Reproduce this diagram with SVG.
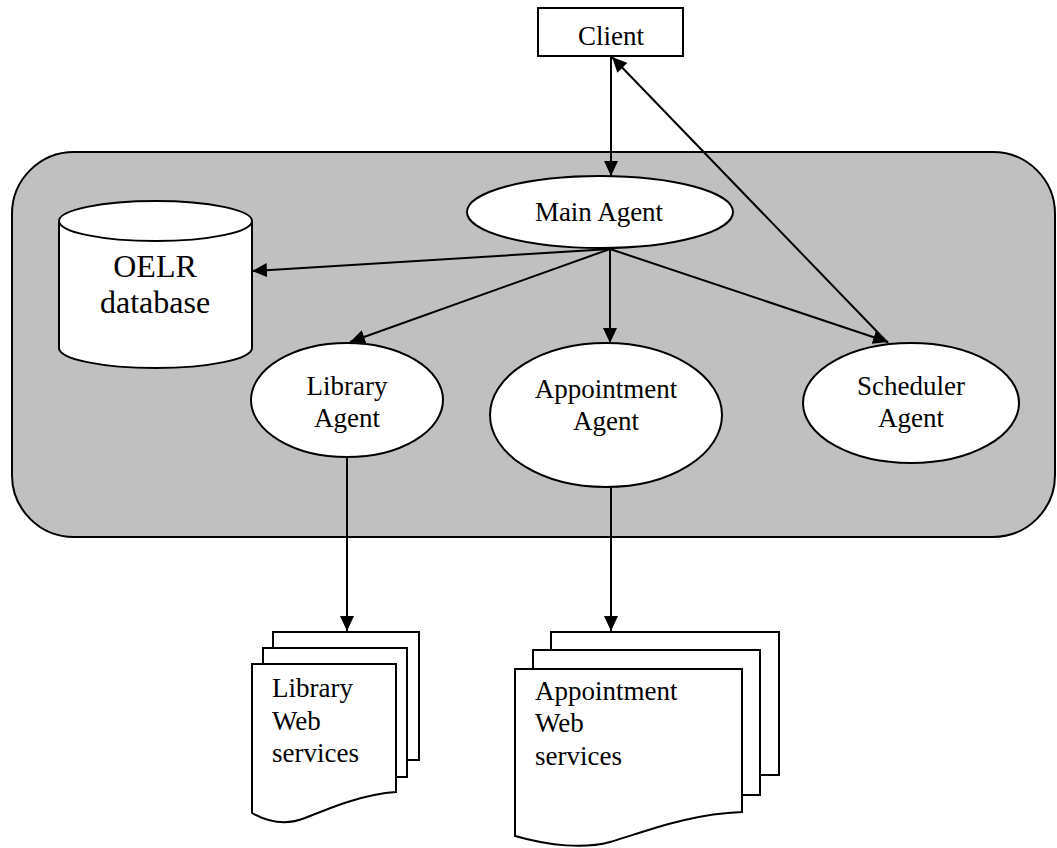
<svg xmlns="http://www.w3.org/2000/svg" width="1057" height="848" viewBox="0 0 1057 848">
<style>
.s{fill:#fff;stroke:#000;stroke-width:2}
.t{font-family:"Liberation Serif","Times New Roman",serif;font-size:27px;fill:#000}
.c{text-anchor:middle}
.e{stroke:#000;stroke-width:2;fill:none;marker-end:url(#ah)}
</style>
<defs>
<marker id="ah" markerUnits="userSpaceOnUse" markerWidth="16" markerHeight="14" refX="15" refY="7" orient="auto">
<path d="M0,0 L15,7 L0,14 z" fill="#000"/>
</marker>
</defs>
<g id="system">
<rect x="12" y="152" width="1043" height="385" rx="62" ry="62" fill="#c0c0c0" stroke="#000" stroke-width="2"/>
</g>
<g id="client">
<rect class="s" x="538" y="8" width="145" height="48"/>
<text class="t c" x="611" y="45">Client</text>
</g>
<g id="main-agent">
<ellipse class="s" cx="600" cy="212" rx="133" ry="36"/>
<text class="t c" x="599" y="221">Main Agent</text>
</g>
<g id="oelr-database">
<path class="s" d="M59,221 V348 A96.5,20 0 0 0 252,348 V221"/>
<ellipse class="s" cx="155.5" cy="221" rx="96.5" ry="20"/>
<text class="t c" x="155" y="277" style="font-size:32px">OELR</text>
<text class="t c" x="155" y="313" style="font-size:32px">database</text>
</g>
<g id="library-agent">
<ellipse class="s" cx="347" cy="400" rx="96" ry="57"/>
<text class="t c" x="347" y="395">Library</text>
<text class="t c" x="347" y="427">Agent</text>
</g>
<g id="appointment-agent">
<ellipse class="s" cx="606" cy="415" rx="116" ry="72"/>
<text class="t c" x="606" y="398">Appointment</text>
<text class="t c" x="606" y="430">Agent</text>
</g>
<g id="scheduler-agent">
<ellipse class="s" cx="911" cy="403" rx="108" ry="60"/>
<text class="t c" x="911" y="395">Scheduler</text>
<text class="t c" x="911" y="427">Agent</text>
</g>
<g id="library-web-services">
<path class="s" d="M273,648 V632 H419 V760 H407"/>
<path class="s" d="M263,664 V648 H407 V777 H396"/>
<path class="s" d="M252,664 H396 V792 C365,794 335,806 305,818 C285,826 268,822 252,813 Z"/>
<text class="t" x="272" y="697">Library</text>
<text class="t" x="272" y="730">Web</text>
<text class="t" x="272" y="762">services</text>
</g>
<g id="appointment-web-services">
<path class="s" d="M551,650 V632 H779 V775 H760"/>
<path class="s" d="M533,669 V650 H760 V795 H742"/>
<path class="s" d="M515,669 H742 V812 C690,814 650,830 610,842 C585,849 550,846 515,836 Z"/>
<text class="t" x="535" y="700">Appointment</text>
<text class="t" x="535" y="732">Web</text>
<text class="t" x="535" y="765">services</text>
</g>
<g id="connectors">
<line class="e" x1="611" y1="56" x2="611" y2="176"/>
<line class="e" x1="888" y1="343" x2="612" y2="57"/>
<line class="e" x1="610" y1="249" x2="252" y2="271"/>
<line class="e" x1="610" y1="249" x2="350" y2="342"/>
<line class="e" x1="610" y1="249" x2="610" y2="343"/>
<line class="e" x1="610" y1="249" x2="888" y2="342"/>
<line class="e" x1="347" y1="457" x2="347" y2="631"/>
<line class="e" x1="611" y1="487" x2="611" y2="631"/>
</g>
</svg>
